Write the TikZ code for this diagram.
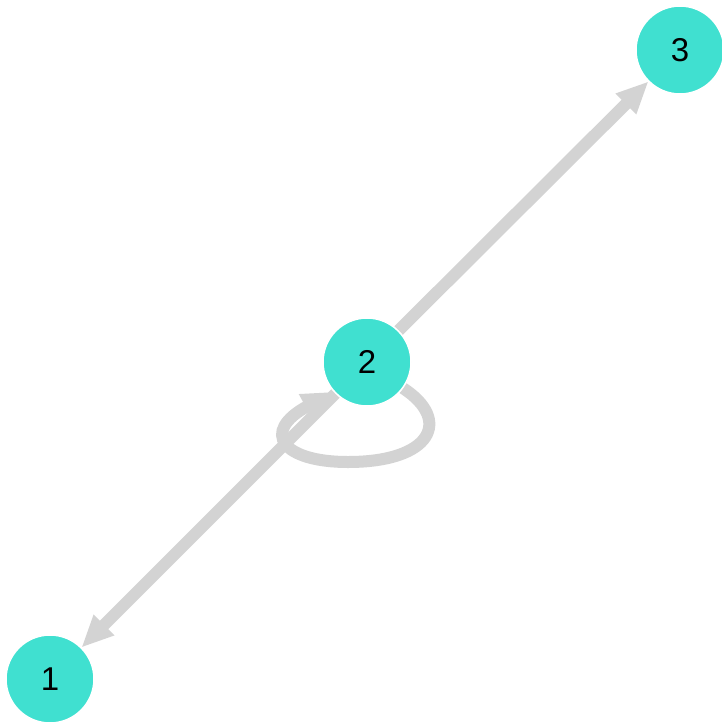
\documentclass[tikz,border=0pt]{standalone}
\usepackage{fontspec}
\setmainfont{Liberation Sans}
\usetikzlibrary{arrows.meta}
\definecolor{vertex}{RGB}{64,224,208}
\definecolor{edgegray}{RGB}{211,211,211}
\pgfdeclarelayer{bg}
\pgfsetlayers{bg,main}
\tikzset{
  vertexnode/.style={circle, fill=vertex, draw=white, line width=1.5pt,
    minimum size=88pt, inner sep=0pt, outer sep=0.5pt,
    font=\fontsize{33}{33}\selectfont},
  link/.style={draw=edgegray, line width=12pt,
    -{Triangle[length=32pt, width=27pt]}}
}
\begin{document}
\begin{tikzpicture}[x=1pt, y=-1pt]
  \useasboundingbox (0,0) rectangle (721,726);
  \node[vertexnode] (n1) at (50,679) {1};
  \node[vertexnode] (n2) at (367,362) {2};
  \node[vertexnode] (n3) at (680,50) {3};
  \begin{pgfonlayer}{bg}
    \draw[link] (n2) -- (n3);
    \draw[link] (n2) -- (n1);
    % loop on vertex 2
    \draw[link] (n2.-36) .. controls (452,420) and (432,462) .. (348,462)
      .. controls (282,462) and (260,432) .. (n2.222);
  \end{pgfonlayer}
\end{tikzpicture}
\end{document}
